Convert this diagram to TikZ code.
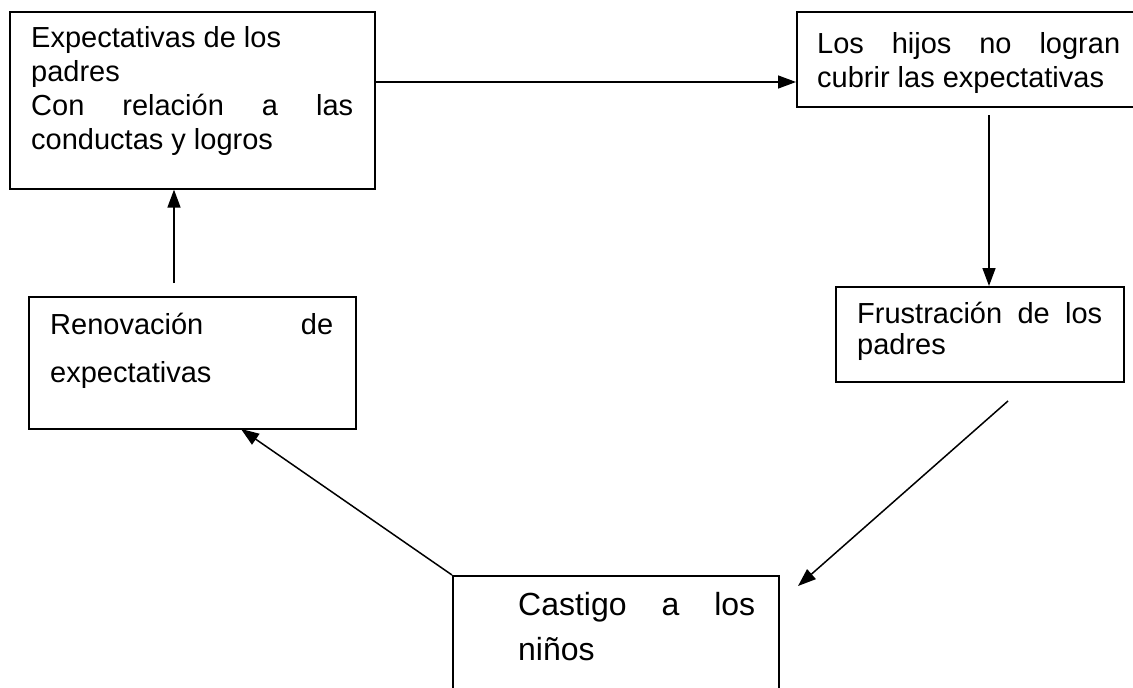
\documentclass[tikz,border=0pt]{standalone}
\usepackage{fontspec}
\setmainfont{Liberation Sans}
\usetikzlibrary{arrows.meta}
\tikzset{
  box/.style={draw, line width=1.6pt, inner sep=0pt, anchor=north west},
  txt/.style={inner sep=0pt, anchor=base west, font=\fontsize{29}{34}\selectfont},
  bigtxt/.style={inner sep=0pt, anchor=base west, font=\fontsize{32}{45}\selectfont},
  arr/.style={line width=1.5pt, -{Triangle[length=18pt,width=13pt]}}
}
\begin{document}
\begin{tikzpicture}[x=1pt,y=-1pt]
\useasboundingbox (0,0) rectangle (1133,688);
% boxes
\node[box, minimum width=365pt, minimum height=177pt] (b1) at (9,11) {};
\node[box, minimum width=336.5pt, minimum height=95pt] (b2) at (796,11) {};
\node[box, minimum width=288pt, minimum height=95pt] (b3) at (835,286) {};
\node[box, minimum width=327pt, minimum height=132pt] (b4) at (28,296) {};
\node[box, minimum width=326pt, minimum height=140pt] (b5) at (452,575) {};
% texts
\node[txt] (t1) at (31,47) {\vtop{\hbox{Expectativas de los}\hbox{padres}\hbox to 322pt{Con\hfill relación\hfill a\hfill las}\hbox{conductas y logros}}};
\node[txt] (t2) at (817,53) {\vtop{\hbox to 303pt{Los\hfill hijos\hfill no\hfill logran}\hbox{cubrir las expectativas}}};
\node[txt, font=\fontsize{29}{31}\selectfont] (t3) at (857,323) {\vtop{\hbox to 245pt{Frustración\hfill de\hfill los}\hbox{padres}}};
\node[txt, font=\fontsize{29}{48}\selectfont] (t4) at (50,334) {\vtop{\hbox to 283pt{Renovación\hfill de}\hbox{expectativas}}};
\node[bigtxt] (t5) at (518,615) {\vtop{\hbox to 237pt{Castigo\hfill a\hfill los}\hbox{niños}}};
% connector anchors
\coordinate (h1) at (0,82);
\coordinate (s2) at (989,115);
\coordinate (s3) at (1008,401);
\coordinate (e3) at (798,586);
\coordinate (e4) at (241,429);
\coordinate (s5) at (174,283);
% connectors
\draw[arr] (b1.east |- h1) -- (b2.west |- h1);
\draw[arr] (s2) -- (s2 |- b3.north);
\draw[arr] (s3) -- (e3);
\draw[arr] (b5.north west) -- (e4);
\draw[arr] (s5) -- (s5 |- b1.south);
\end{tikzpicture}
\end{document}
